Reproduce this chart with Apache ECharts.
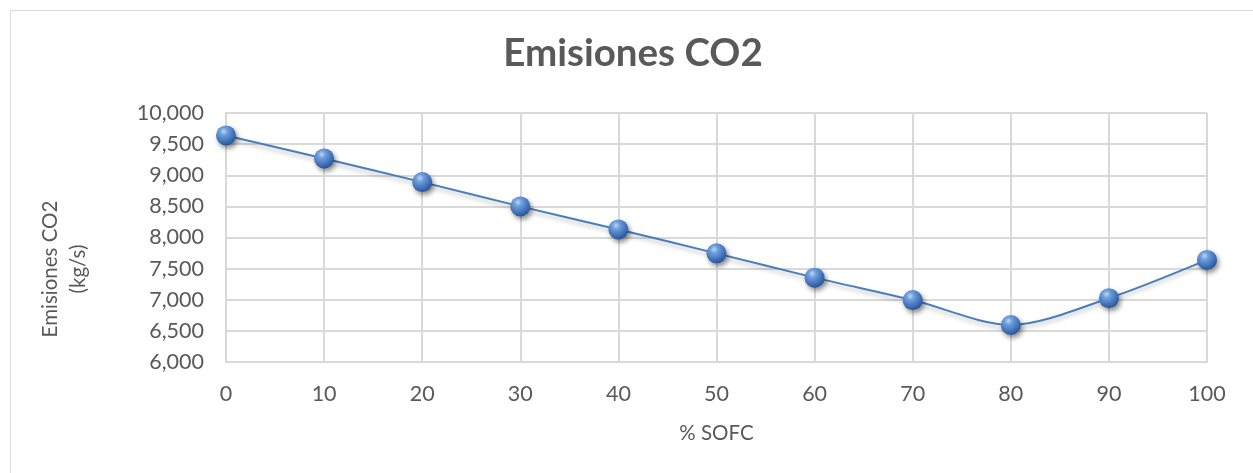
<!DOCTYPE html>
<html>
<head>
<meta charset="utf-8">
<script src="https://cdn.jsdelivr.net/npm/echarts@6/dist/echarts.min.js"></script>
<style>
html,body{margin:0;padding:0;background:#fff;}
#chart{width:1253px;height:473px;}
</style>
</head>
<body>
<div id="chart"></div>
<script>
const titleText = 'Emisiones CO2';
const xName = '% SOFC';
const yName = 'Emisiones CO2\n(kg/s)';
const sofc = [0, 10, 20, 30, 40, 50, 60, 70, 80, 90, 100];
const emisiones = [9640, 9270, 8890, 8500, 8130, 7745, 7355, 6995, 6595, 7025, 7640];
const yTicks = {min: 6000, max: 10000, interval: 500};
const xTicks = {min: 0, max: 100, interval: 10};

const FONT = 'Lato';
const TXT = '#595959';
const GRID = '#d9d9d9';

const chart = echarts.init(document.getElementById('chart'), null, {renderer: 'canvas'});
const sphere = new echarts.graphic.RadialGradient(0.38, 0.3, 0.75, [
  {offset: 0, color: '#bcd7f7'},
  {offset: 0.25, color: '#6f9fdc'},
  {offset: 0.7, color: '#3f70b8'},
  {offset: 1, color: '#24508f'}
]);
chart.setOption({
  animation: false,
  backgroundColor: '#ffffff',
  title: {
    text: titleText,
    left: 628,
    top: 29,
    textAlign: 'center',
    textStyle: {fontFamily: FONT, fontSize: 38.5, fontWeight: 'bold', color: TXT}
  },
  graphic: [
    {type: 'rect', left: 8, top: 8, shape: {width: 1300, height: 500}, style: {fill: 'none', stroke: GRID, lineWidth: 1}, silent: true},
    {type: 'text', x: 64, y: 269, rotation: Math.PI / 2, style: {text: yName, fontFamily: FONT, fontSize: 20.5, fill: TXT, align: 'center', verticalAlign: 'middle', lineHeight: 28}}
  ],
  grid: {left: 226, right: 46, top: 113, bottom: 111, containLabel: false},
  xAxis: {
    type: 'value', min: xTicks.min, max: xTicks.max, interval: xTicks.interval,
    name: xName, nameLocation: 'middle', nameGap: 61,
    nameTextStyle: {fontFamily: FONT, fontSize: 20.5, color: TXT},
    axisLine: {show: true, lineStyle: {color: GRID, width: 2}},
    axisTick: {show: false},
    splitLine: {show: true, lineStyle: {color: GRID, width: 2}},
    axisLabel: {fontFamily: FONT, fontSize: 21.5, color: TXT, margin: 21}
  },
  yAxis: {
    type: 'value', min: yTicks.min, max: yTicks.max, interval: yTicks.interval,
    axisLine: {show: true, lineStyle: {color: GRID, width: 2}},
    axisTick: {show: false},
    splitLine: {show: true, lineStyle: {color: GRID, width: 2}},
    axisLabel: {fontFamily: FONT, fontSize: 21.5, color: TXT, margin: 22,
      formatter: v => v.toLocaleString('en-US')}
  },
  series: [{
    type: 'line',
    data: sofc.map((x, i) => [x, emisiones[i]]),
    smooth: 0.3,
    symbol: 'circle',
    symbolSize: 20,
    lineStyle: {color: '#4a7ebb', width: 2, shadowColor: 'rgba(0,0,0,0.25)', shadowBlur: 4, shadowOffsetY: 3},
    itemStyle: {color: sphere, borderWidth: 0, shadowColor: 'rgba(0,0,0,0.45)', shadowBlur: 5, shadowOffsetX: 2, shadowOffsetY: 3},
    z: 3
  }]
});
</script>
</body>
</html>
